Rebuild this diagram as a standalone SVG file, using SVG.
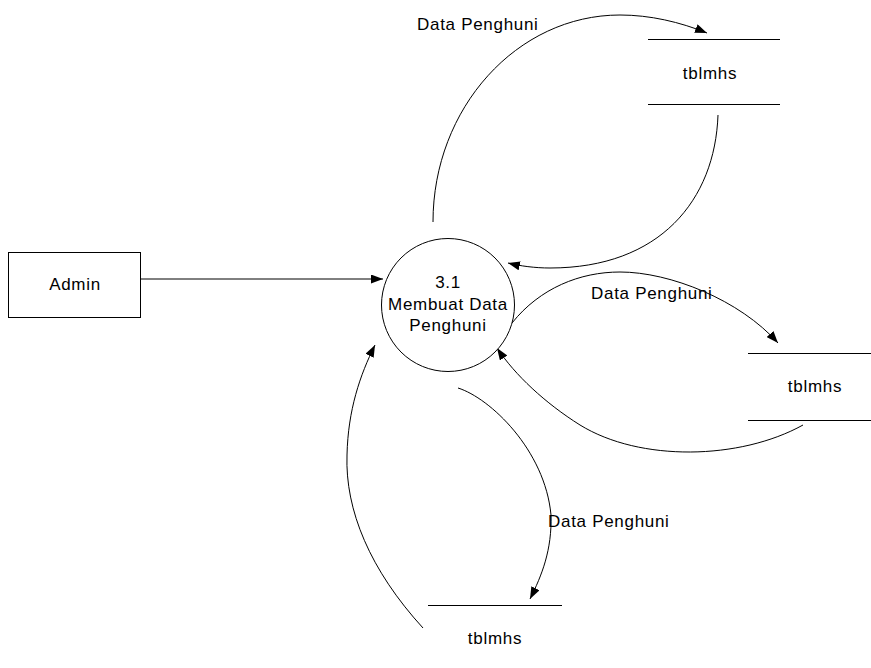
<svg xmlns="http://www.w3.org/2000/svg" width="871" height="668" viewBox="0 0 871 668">
<style>
text{font-family:"Liberation Sans",Arial,sans-serif;font-size:17px;fill:#000;letter-spacing:0.7px}
.c{text-anchor:middle}
.ln{fill:none;stroke:#000;stroke-width:1}
.fl{fill:none;stroke:#000;stroke-width:1;marker-end:url(#ah)}
</style>
<defs>
<marker id="ah" markerUnits="userSpaceOnUse" markerWidth="12" markerHeight="9" refX="12" refY="4.5" orient="auto">
<path d="M0,0 L12,4.5 L0,9 z" fill="#000"/>
</marker>
</defs>
<rect width="871" height="668" fill="#fff"/>
<g id="connectors">
<path class="fl" d="M141,279 L383,279"/>
<path class="fl" d="M433,222 C433,108 517,15 620,15 C650,15 680,22 707,33"/>
<path class="fl" d="M718,115 C715,200 660,268 550,268 C535,268 520,266 508,263"/>
<path class="fl" d="M512,323 C540,288 580,272 620,272 C670,272 740,300 778,343"/>
<path class="fl" d="M803,425 C740,460 640,462 580,425 C545,403 515,375 497,348"/>
<path class="fl" d="M458,388 C490,398 545,450 551,515 C552,550 542,575 530,599"/>
<path class="fl" d="M423,628 C370,570 345,510 347,455 C348,410 360,375 375,345"/>
<text x="417" y="30">Data Penghuni</text>
<text x="591" y="299">Data Penghuni</text>
<text x="548" y="527">Data Penghuni</text>
</g>
<g id="admin">
<rect x="8.5" y="252.5" width="132" height="65" fill="#fff" stroke="#000"/>
<text class="c" x="75" y="290">Admin</text>
</g>
<g id="process">
<circle cx="448" cy="305" r="66.5" fill="#fff" stroke="#000"/>
<text class="c" x="448" y="288">3.1</text>
<text class="c" x="448" y="310">Membuat Data</text>
<text class="c" x="448" y="331">Penghuni</text>
</g>
<g id="store-top">
<path class="ln" d="M648,39.5 H780 M648,104.5 H780"/>
<text class="c" x="710" y="79">tblmhs</text>
</g>
<g id="store-right">
<path class="ln" d="M748,353.5 H871 M748,420.5 H871"/>
<text class="c" x="815" y="392">tblmhs</text>
</g>
<g id="store-bottom">
<path class="ln" d="M428,605.5 H562"/>
<text class="c" x="495" y="644">tblmhs</text>
</g>
</svg>
